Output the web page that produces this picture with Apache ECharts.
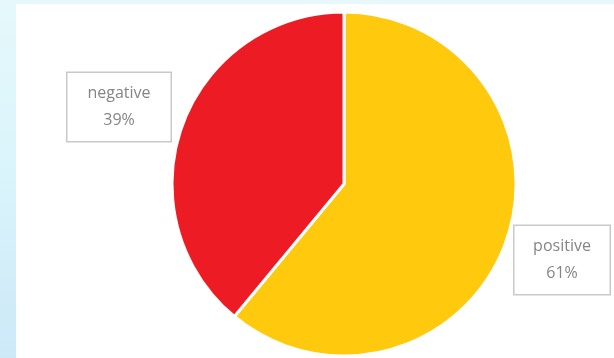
<!DOCTYPE html>
<html>
<head>
<meta charset="utf-8">
<script src="https://cdn.jsdelivr.net/npm/echarts@6/dist/echarts.min.js"></script>
<style>
  html, body { margin: 0; padding: 0; }
  body { background: linear-gradient(180deg, #e6f8fb 0%, #d9f4fb 50%, #cde8f7 100%); }
  #chart { width: 614px; height: 358px; }
</style>
</head>
<body>
<div id="chart"></div>
<script>
const categories = ['positive', 'negative']
const values = [61, 39]
const colors = ['#FFC90E', '#ED1C24']

// centre and text width of each callout box
const labelPos = [
  { x: 562, y: 260, w: 67 },
  { x: 119, y: 107, w: 75 },
]

const chart = echarts.init(document.getElementById('chart'))

chart.setOption({
  animation: false,
  graphic: [
    {
      type: 'rect',
      z: -10,
      shape: { x: 16, y: 4, width: 600, height: 360 },
      style: { fill: '#ffffff' },
    },
  ],
  series: [
    {
      type: 'pie',
      center: [344, 184],
      radius: 172,
      startAngle: 90,
      clockwise: true,
      itemStyle: { borderColor: '#ffffff', borderWidth: 3 },
      label: {
        show: true,
        position: 'outside',
        overflow: 'none',
        formatter: p => `${p.name}\n${Math.round(p.percent)}%`,
        fontFamily: 'Open Sans, Liberation Sans, sans-serif',
        fontSize: 16,
        lineHeight: 27,
        color: '#858585',
        backgroundColor: '#ffffff',
        borderColor: '#c9c9c9',
        borderWidth: 1.5,
        padding: [7, 14, 7, 14],
        align: 'center',
      },
      labelLine: { show: false },
      labelLayout: params => ({
        x: labelPos[params.dataIndex].x,
        y: labelPos[params.dataIndex].y,
        align: 'center',
        verticalAlign: 'middle',
      }),
      emphasis: { disabled: true },
      data: categories.map((name, i) => ({
        name,
        value: values[i],
        itemStyle: { color: colors[i] },
        label: { width: labelPos[i].w },
      })),
    },
  ],
})
</script>
</body>
</html>
